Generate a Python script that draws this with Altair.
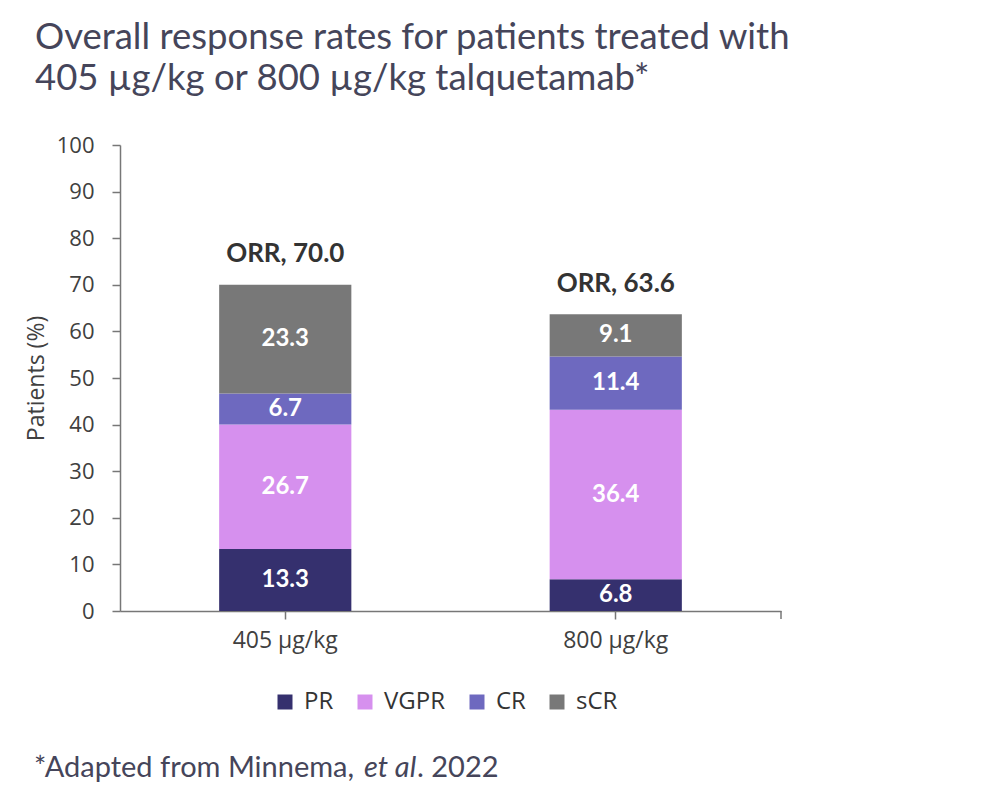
import altair as alt
import pandas as pd

doses = ["405 µg/kg", "800 µg/kg"]
responses = ["PR", "VGPR", "CR", "sCR"]
values_405 = [13.3, 26.7, 6.7, 23.3]
values_800 = [6.8, 36.4, 11.4, 9.1]
orr = [70.0, 63.6]
colors = ["#35306e", "#d690ee", "#6e69bf", "#787878"]
title_lines = ["Overall response rates for patients treated with",
               "405 µg/kg or 800 µg/kg talquetamab*"]
footnote_parts = ["*Adapted from Minnema,", "et al", ". 2022"]
y_ticks = list(range(0, 101, 10))

rows = []
for d, vals in zip(doses, [values_405, values_800]):
    for i, (r, v) in enumerate(zip(responses, vals)):
        rows.append({"dose": d, "response": r, "value": v, "order": i})
df = pd.DataFrame(rows)
orr_df = pd.DataFrame({"dose": doses, "orr": orr,
                       "label": [f"ORR, {v:.1f}" for v in orr]})

W, H = 661, 466
AXIS_COLOR = "#777777"
TEXT_COLOR = "#404040"
TITLE_COLOR = "#45455a"

x = alt.X("dose:N", sort=doses,
          scale=alt.Scale(paddingInner=0.6, paddingOuter=0.3),
          axis=alt.Axis(title=None, labelAngle=0, labelFont="Open Sans",
                        labelFontSize=23, labelColor=TEXT_COLOR, tickSize=8,
                        labelPadding=10, domainColor=AXIS_COLOR,
                        tickColor=AXIS_COLOR, domainWidth=1.5, tickWidth=1.5))

yscale = alt.Scale(domain=[0, 100], nice=False)

base = alt.Chart(df).transform_stack(
    stack="value", groupby=["dose"], as_=["y0", "y1"],
    sort=[alt.SortField("order")]
).transform_calculate(mid="(datum.y0 + datum.y1) / 2")

bars = base.mark_bar().encode(
    x=x,
    y=alt.Y("y0:Q", scale=yscale,
            axis=alt.Axis(title="Patients (%)", values=y_ticks, grid=False,
                          labelFont="Open Sans", labelFontSize=22,
                          labelColor=TEXT_COLOR, labelPadding=18,
                          tickSize=8, domainColor=AXIS_COLOR,
                          tickColor=AXIS_COLOR, domainWidth=1.5, tickWidth=1.5,
                          titleFont="Open Sans", titleFontSize=23,
                          titleFontWeight="normal", titleColor=TEXT_COLOR,
                          titlePadding=8)),
    y2="y1:Q",
    color=alt.Color("response:N",
                    scale=alt.Scale(domain=responses, range=colors),
                    legend=alt.Legend(title=None, orient="none", legendX=153,
                                      legendY=545, direction="horizontal",
                                      symbolType="square", symbolSize=225,
                                      symbolStrokeWidth=0, symbolOpacity=1,
                                      labelFont="Open Sans", labelFontSize=24,
                                      labelColor="#333333", columnPadding=19,
                                      labelOffset=7)),
    order=alt.Order("order:Q"),
)

seg_text = base.mark_text(color="white", font="Lato", fontWeight="bold",
                          fontSize=24, baseline="middle").encode(
    x=x, y=alt.Y("mid:Q", scale=yscale),
    text=alt.Text("value:Q", format=".1f"),
)

orr_text = alt.Chart(orr_df).mark_text(
    color="#333333", font="Lato", fontWeight="bold", fontSize=26,
    baseline="middle", dy=-31
).encode(x=x, y=alt.Y("orr:Q", scale=yscale), text="label:N")

end_tick = alt.Chart(orr_df.head(1)).mark_rule(
    color=AXIS_COLOR, strokeWidth=1.5
).encode(x=alt.value(W), y=alt.value(H), y2=alt.value(H + 8))

foot_df = pd.DataFrame({"t": footnote_parts})
FOOT_Y = 632
foot_normal1 = alt.Chart(foot_df.iloc[[0]]).mark_text(
    font="Lato", fontSize=29, color=TITLE_COLOR, align="left",
    baseline="alphabetic").encode(x=alt.value(-86), y=alt.value(FOOT_Y), text="t:N")
foot_italic = alt.Chart(foot_df.iloc[[1]]).mark_text(
    font="Lato", fontSize=29, fontStyle="italic", color=TITLE_COLOR,
    align="left", baseline="alphabetic").encode(
    x=alt.value(244), y=alt.value(FOOT_Y), text="t:N")
foot_normal2 = alt.Chart(foot_df.iloc[[2]]).mark_text(
    font="Lato", fontSize=29, color=TITLE_COLOR, align="left",
    baseline="alphabetic").encode(x=alt.value(297), y=alt.value(FOOT_Y), text="t:N")

chart = alt.layer(
    bars, seg_text, orr_text, end_tick, foot_normal1, foot_italic, foot_normal2
).properties(
    width=W, height=H,
    padding={"left": 112, "top": 137, "right": 217, "bottom": 183},
    autosize=alt.AutoSizeParams(type="none"),
    title=alt.TitleParams(text=title_lines, anchor="start", frame="group",
                          dx=-85, offset=37, font="Lato", fontSize=36.5,
                          fontWeight="normal", color=TITLE_COLOR,
                          lineHeight=41),
).configure_view(stroke=None)

chart.save("out.html", embed_options={"renderer": "svg", "actions": False})
